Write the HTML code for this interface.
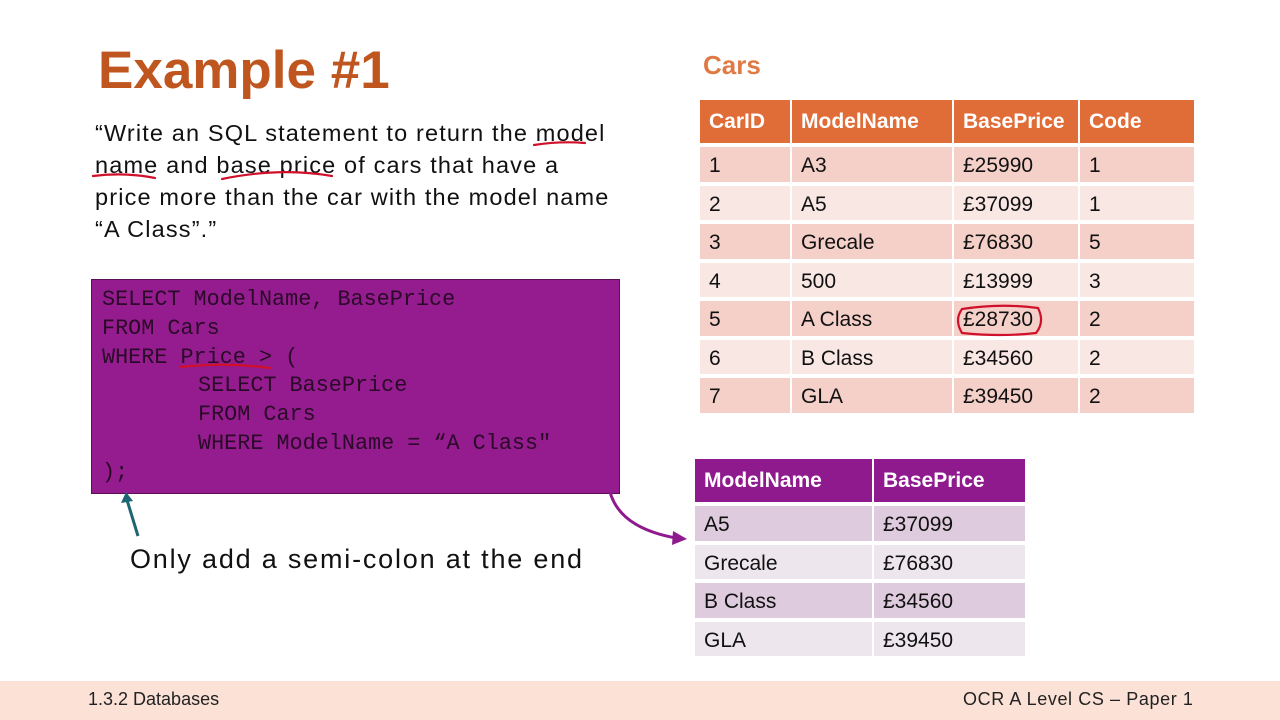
<!DOCTYPE html>
<html><head><meta charset="utf-8"><style>
*{margin:0;padding:0;box-sizing:border-box}
body{width:1280px;height:720px;background:#fff;position:relative;overflow:hidden;font-family:"Liberation Sans",sans-serif}
.a{position:absolute}
.title{left:98px;top:40px;font-size:53px;font-weight:bold;color:#c0561f}
.para{left:95px;top:117px;font-size:23.5px;line-height:32px;color:#111;white-space:nowrap;letter-spacing:1.15px}
.code{left:91px;top:279px;width:529px;height:215px;background:#951c8e;border:1px solid #5a1055}
.code pre{position:absolute;left:10px;top:6px;font-family:"Liberation Mono","DejaVu Sans Mono",monospace;font-size:21.8px;line-height:28.8px;color:#2a0a28}
.code pre span{display:inline-block;padding-left:96px}
table{border-collapse:separate;border-spacing:2px 4px;position:absolute;font-family:"Liberation Sans",sans-serif;font-size:21px}
td{padding:4px 0 0 9px;height:34.5px;vertical-align:middle;color:#111}
th{padding:0 0 0 9px;height:43px;text-align:left;color:#fff;font-weight:bold;vertical-align:middle}
.t1 th{background:#e06c37}
.t1 tr:nth-child(even) td{background:#f4d0c9}
.t1 tr:nth-child(odd) td{background:#f9e7e4}
.t2 th{background:#8f1a8e}
.t2 tr:nth-child(even) td{background:#decbde}
.t2 tr:nth-child(odd) td{background:#ede7ed}
.foot{left:0;top:681px;width:1280px;height:39px;background:#fbe1d6}
</style></head><body>
<div class="a title">Example #1</div>
<div class="a para">“Write an SQL statement to return the model<br>name and base price of cars that have a<br>price more than the car with the model name<br>“A Class”.”</div>
<div class="a code"><pre>SELECT ModelName, BasePrice
FROM Cars
WHERE Price &gt; (
<span>SELECT BasePrice</span>
<span>FROM Cars</span>
<span>WHERE ModelName = “A Class"</span>
);</pre></div>
<div class="a" style="left:130px;top:544px;font-size:27px;letter-spacing:1.8px;color:#111">Only add a semi-colon at the end</div>
<div class="a" style="left:703px;top:50px;font-size:26px;font-weight:bold;color:#e07a45">Cars</div>
<table class="t1" style="left:698px;top:96px;width:498px">
<tr><th style="width:90px">CarID</th><th style="width:160px">ModelName</th><th style="width:124px">BasePrice</th><th>Code</th></tr>
<tr><td>1</td><td>A3</td><td>£25990</td><td>1</td></tr>
<tr><td>2</td><td>A5</td><td>£37099</td><td>1</td></tr>
<tr><td>3</td><td>Grecale</td><td>£76830</td><td>5</td></tr>
<tr><td>4</td><td>500</td><td>£13999</td><td>3</td></tr>
<tr><td>5</td><td>A Class</td><td>£28730</td><td>2</td></tr>
<tr><td>6</td><td>B Class</td><td>£34560</td><td>2</td></tr>
<tr><td>7</td><td>GLA</td><td>£39450</td><td>2</td></tr>
</table>
<table class="t2" style="left:693px;top:455px;width:334px">
<tr><th style="width:177px">ModelName</th><th>BasePrice</th></tr>
<tr><td>A5</td><td>£37099</td></tr>
<tr><td>Grecale</td><td>£76830</td></tr>
<tr><td>B Class</td><td>£34560</td></tr>
<tr><td>GLA</td><td>£39450</td></tr>
</table>
<svg class="a" style="left:0;top:0" width="1280" height="720">
<g fill="none" stroke="#d0102a" stroke-width="2.2" stroke-linecap="round">
<path d="M534 145 Q560 141 585 143"/>
<path d="M93 176 Q125 172 155 178"/>
<path d="M222 179 Q280 167 332 176"/>
<path d="M180 367 Q225 362 270 368"/>
<path d="M962 309 Q1000 303 1038 308 Q1045 322 1036 333 Q1000 337 962 333 Q954 320 962 309Z"/>
</g>
<path d="M138 536 L127 500" stroke="#1e6673" stroke-width="3" fill="none"/>
<path d="M121 503 L126 492 L133 501Z" fill="#1e6673"/>
<path d="M610 492 Q620 528 676 538" stroke="#8f1a8e" stroke-width="3" fill="none"/>
<path d="M673 531 L687 539 L672 545Z" fill="#8f1a8e"/>
</svg>
<div class="a foot"></div>
<div class="a" style="left:88px;top:689px;font-size:18px;color:#222">1.3.2 Databases</div>
<div class="a" style="left:963px;top:689px;font-size:18px;letter-spacing:0.6px;color:#222">OCR A Level CS – Paper 1</div>
</body></html>
